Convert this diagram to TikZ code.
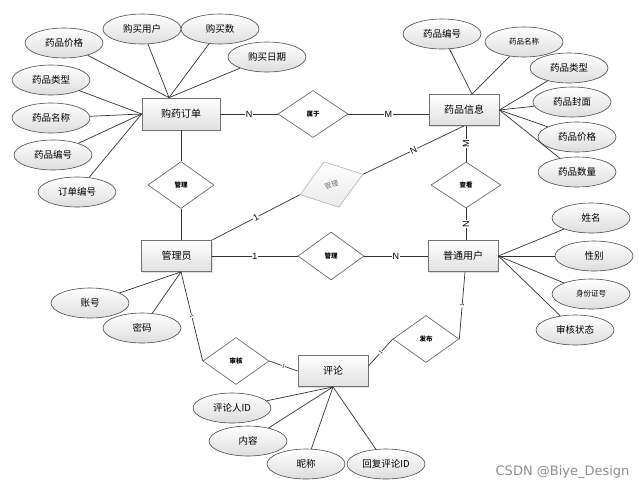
\documentclass[tikz,border=0pt]{standalone}
\usepackage{fontspec}
\setmainfont{Noto Sans CJK SC}
\newfontfamily\latinfont{Liberation Sans}
\newfontfamily\wmfont{DejaVu Sans}
\usetikzlibrary{shapes.geometric,shadows}
\begin{document}
\begin{tikzpicture}[x=1pt,y=-1pt,
  entity/.style={rectangle, draw=black!55, line width=0.8pt, top color=white, bottom color=black!12,
    minimum width=70pt, minimum height=31pt, inner sep=0pt, font=\fontsize{10}{12}\selectfont,
    drop shadow={shadow xshift=1pt,shadow yshift=-1pt,opacity=0.25}},
  attr/.style={ellipse, draw=black!70, line width=0.6pt, top color=white, bottom color=black!13,
    minimum width=78pt, minimum height=30pt, inner sep=0pt, font=\fontsize{9.5}{11}\selectfont},
  smallattr/.style={attr, font=\fontsize{7.5}{9}\selectfont},
  rel/.style={diamond, draw=black!65, line width=0.6pt, fill=white, minimum width=66pt,
    minimum height=47pt, inner sep=0pt, font=\bfseries\fontsize{6.5}{8}\selectfont},
  ghostrel/.style={rel, draw=black!30, top color=white, bottom color=black!8, text=black!55,
    font=\fontsize{7}{8}\selectfont},
  link/.style={draw=black!80, line width=0.7pt},
  card/.style={fill=white, inner sep=0.6pt, font=\latinfont\fontsize{9}{10}\selectfont},
  tick/.style={fill=white, inner sep=0.3pt, font=\latinfont\fontsize{5}{5}\selectfont, sloped},
]
\useasboundingbox (0,0) rectangle (639,490);

% entities
\node[entity, minimum width=78pt, minimum height=32pt] (order) at (181,114) {购药订单};
\node[entity] (info) at (464,110) {药品信息};
\node[entity] (admin) at (176.5,256) {管理员};
\node[entity] (user) at (463,256) {普通用户};
\node[entity] (cmt) at (333,371) {评论};

% relationships
\node[rel, minimum width=70pt] (belong) at (313,114) {属于};
\node[rel] (mg1) at (181,185) {管理};
\node[ghostrel, rotate=18, minimum height=48pt] (mg2) at (331.5,184.5) {管理};
\node[rel, minimum height=48pt] (mg3) at (331,256) {管理};
\node[rel, minimum width=70pt, minimum height=46pt] (view) at (466,185) {查看};
\node[rel] (audit) at (236,361) {审核};
\node[rel] (pub) at (426,339) {发布};

% attributes of 购药订单
\node[attr] (a1) at (64,43) {药品价格};
\node[attr] (a2) at (142,29) {购买用户};
\node[attr] (a3) at (220,29) {购买数};
\node[attr] (a4) at (267,57) {购买日期};
\node[attr] (a5) at (51,80) {药品类型};
\node[attr] (a6) at (51,118) {药品名称};
\node[attr] (a7) at (53,155) {药品编号};
\node[attr] (a8) at (77,192) {订单编号};
\coordinate (oT) at ([xshift=-12pt]order.north);
\foreach \n in {a1,a2,a3,a4} \draw[link] (\n) -- (oT);
\foreach \n in {a5,a6,a7,a8} \draw[link] (\n) -- (order.west);

% attributes of 药品信息
\node[attr] (b1) at (442,34) {药品编号};
\node[smallattr] (b2) at (524,42) {药品名称};
\node[attr] (b3) at (569,68) {药品类型};
\node[attr] (b4) at (572,102) {药品封面};
\node[attr] (b5) at (577,137) {药品价格};
\node[attr] (b6) at (577,172) {药品数量};
\coordinate (iT) at ([xshift=8pt]info.north);
\foreach \n in {b1,b2} \draw[link] (\n) -- (iT);
\foreach \n in {b3,b4,b5,b6} \draw[link] (\n) -- (info.east);

% attributes of 普通用户
\node[attr] (c1) at (591,218) {姓名};
\node[attr] (c2) at (594,256) {性别};
\node[smallattr] (c3) at (591,294) {身份证号};
\node[attr] (c4) at (575,330) {审核状态};
\foreach \n in {c1,c2,c3,c4} \draw[link] (\n) -- (user.east);

% attributes of 管理员
\node[attr] (d1) at (90,303) {账号};
\node[attr] (d2) at (142,328) {密码};
\coordinate (aB) at ([xshift=4.5pt]admin.south);
\foreach \n in {d1,d2} \draw[link] (\n) -- (aB);

% attributes of 评论
\node[attr] (e1) at (232,408) {评论人ID};
\node[attr] (e2) at (248,441) {内容};
\node[attr] (e3) at (306,464) {昵称};
\node[attr] (e4) at (386,464) {回复评论ID};
\foreach \n in {e1,e2,e3,e4} \draw[link] (\n) -- (cmt.south);

% relationship connectors
\draw[link] (order.east) -- node[card]{N} (belong.west);
\draw[link] (belong.east) -- node[card]{M} (belong.east -| info.west);
\draw[link] (order.south) -- (mg1.north);
\draw[link] (mg1.south) -- (mg1.south |- admin.north);
\draw[link] (admin.north east) -- node[card, sloped]{1} (mg2.west);
\draw[link] (mg2.east) -- node[card, sloped]{N} (info.south);
\draw[link] (admin.east) -- node[card]{1} (mg3.west);
\draw[link] (mg3.east) -- node[card]{N} (user.west);
\draw[link] (view.north |- info.south) -- node[card, rotate=90]{M} (view.north);
\draw[link] (view.south) -- node[card, rotate=90]{N} (view.south |- user.north);
\draw[link] (aB) -- node[tick]{1} (audit.west);
\draw[link] (audit.east) -- node[tick]{1} (cmt.west);
\draw[link] ([yshift=5pt]cmt.east) -- node[tick]{1} (pub.west);
\draw[link] (pub.east) -- node[tick]{1} ([xshift=2pt]user.south);

% watermark
\node[font=\wmfont\fontsize{13}{13}\selectfont, text=black!45, anchor=east] (wm) at (633,472) {CSDN @Biye\_Design};
\end{tikzpicture}
\end{document}
